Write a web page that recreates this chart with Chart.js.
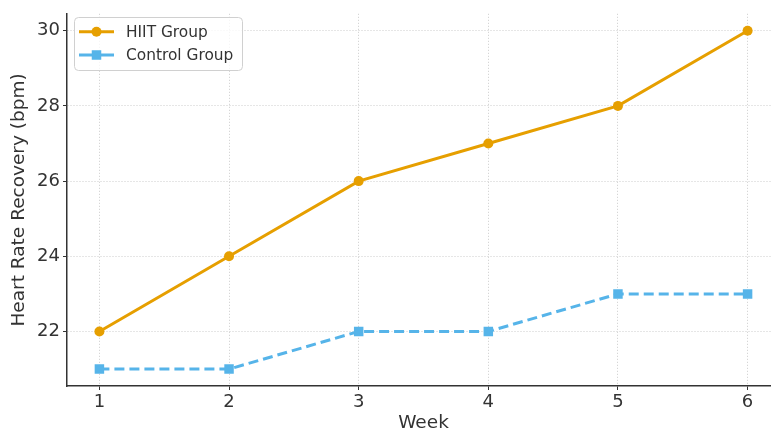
<!DOCTYPE html>
<html>
<head>
<meta charset="utf-8">
<script src="https://cdn.jsdelivr.net/npm/chart.js@4.4.0/dist/chart.umd.min.js"></script>
<style>
html,body{margin:0;padding:0;background:#fff;overflow:hidden;width:771px;height:433px;}
#wrap{width:790px;height:433px;}
</style>
</head>
<body>
<div id="wrap"><canvas id="c" width="790" height="433"></canvas></div>
<script>
const weeks = [1, 2, 3, 4, 5, 6];
const hiitValues = [22, 24, 26, 27, 28, 30];
const controlValues = [21, 21, 22, 22, 23, 23];
const xTicks = [1, 2, 3, 4, 5, 6];
const yTicks = [22, 24, 26, 28, 30];

const ORANGE = '#E69F00';
const BLUE = '#56B4E9';
const FONT = "'DejaVu Sans', sans-serif";

const legendPlugin = {
  id: 'mplLegend',
  afterDraw(chart) {
    const ctx = chart.ctx;
    const x0 = 74.5, y0 = 17.5, w = 168, h = 53, r = 4;
    ctx.save();
    ctx.beginPath();
    ctx.moveTo(x0 + r, y0);
    ctx.lineTo(x0 + w - r, y0);
    ctx.quadraticCurveTo(x0 + w, y0, x0 + w, y0 + r);
    ctx.lineTo(x0 + w, y0 + h - r);
    ctx.quadraticCurveTo(x0 + w, y0 + h, x0 + w - r, y0 + h);
    ctx.lineTo(x0 + r, y0 + h);
    ctx.quadraticCurveTo(x0, y0 + h, x0, y0 + h - r);
    ctx.lineTo(x0, y0 + r);
    ctx.quadraticCurveTo(x0, y0, x0 + r, y0);
    ctx.closePath();
    ctx.fillStyle = 'rgba(255,255,255,0.8)';
    ctx.fill();
    ctx.strokeStyle = '#d0d0d0';
    ctx.lineWidth = 1;
    ctx.stroke();
    const rows = [31.7, 55];
    chart.data.datasets.forEach((ds, i) => {
      const yy = rows[i];
      ctx.beginPath();
      ctx.setLineDash([]);
      ctx.strokeStyle = ds.borderColor;
      ctx.lineWidth = 3;
      ctx.moveTo(79, yy);
      ctx.lineTo(114, yy);
      ctx.stroke();
      ctx.fillStyle = ds.borderColor;
      if (ds.pointStyle === 'circle') {
        ctx.beginPath();
        ctx.arc(96.5, yy, 5, 0, Math.PI * 2);
        ctx.fill();
      } else {
        ctx.fillRect(96.5 - 4.75, yy - 4.75, 9.5, 9.5);
      }
      ctx.fillStyle = '#333';
      ctx.font = "15.4px " + FONT;
      ctx.textBaseline = 'middle';
      ctx.textAlign = 'left';
      ctx.fillText(ds.label, 126, yy + 1);
    });
    ctx.restore();
  }
};

new Chart(document.getElementById('c'), {
  type: 'line',
  data: {
    datasets: [
      {
        label: 'HIIT Group',
        data: weeks.map((w, i) => ({x: w, y: hiitValues[i]})),
        borderColor: ORANGE,
        backgroundColor: ORANGE,
        borderWidth: 3,
        pointStyle: 'circle',
        pointRadius: 5,
        pointBorderWidth: 0,
        tension: 0
      },
      {
        label: 'Control Group',
        data: weeks.map((w, i) => ({x: w, y: controlValues[i]})),
        borderColor: BLUE,
        backgroundColor: BLUE,
        borderWidth: 3,
        borderDash: [10, 5],
        pointStyle: 'rect',
        pointRadius: 6.7,
        pointBorderWidth: 0,
        tension: 0
      }
    ]
  },
  options: {
    responsive: false,
    animation: false,
    layout: {padding: {top: 10, left: 0, right: 10, bottom: 0}},
    plugins: {legend: {display: false}, tooltip: {enabled: false}},
    scales: {
      x: {
        type: 'linear',
        min: 0.75,
        max: 6.25,
        afterFit: s => { s.height = 47; },
        afterBuildTicks: s => { s.ticks = xTicks.map(v => ({value: v})); },
        ticks: {font: {family: FONT, size: 18}, color: '#333', padding: 2},
        grid: {color: '#cccccc', lineWidth: 1, tickColor: '#333', tickLength: 4, tickWidth: 1, tickBorderDash: []},
        border: {display: true, color: '#333', width: 1.5, dash: [1, 2]},
        title: {display: true, text: 'Week', font: {family: FONT, size: 18.5}, color: '#333', padding: {top: 0, bottom: -1}}
      },
      y: {
        type: 'linear',
        min: 20.55,
        max: 30.45,
        afterFit: s => { s.width = 67; },
        afterBuildTicks: s => { s.ticks = yTicks.map(v => ({value: v})); },
        ticks: {font: {family: FONT, size: 18}, color: '#333', padding: 3},
        grid: {color: '#cccccc', lineWidth: 1, tickColor: '#333', tickLength: 4, tickWidth: 1, tickBorderDash: []},
        border: {display: true, color: '#333', width: 1.5, dash: [1, 2]},
        title: {display: true, text: 'Heart Rate Recovery (bpm)', font: {family: FONT, size: 18.5}, color: '#333', padding: {top: 8, bottom: 0}}
      }
    }
  },
  plugins: [legendPlugin]
});
</script>
</body>
</html>
